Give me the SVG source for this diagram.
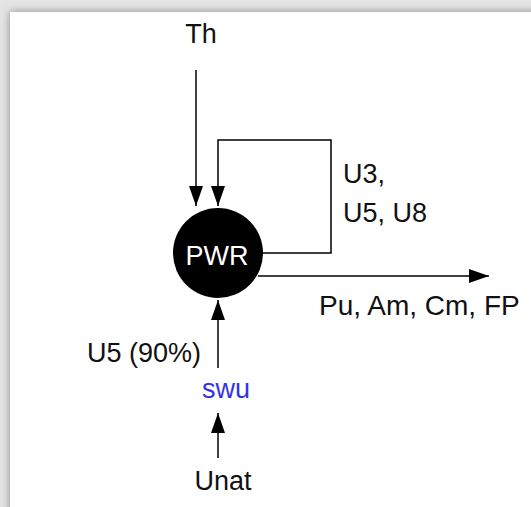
<svg xmlns="http://www.w3.org/2000/svg" width="531" height="507" viewBox="0 0 531 507">
<defs>
<filter id="sh" x="-0.1" y="-0.1" width="1.2" height="1.2"><feGaussianBlur stdDeviation="4"/></filter>
<marker id="ah" viewBox="0 0 20 14" refX="20" refY="7" markerWidth="20" markerHeight="14" markerUnits="userSpaceOnUse" orient="auto"><path d="M0,0 L20,7 L0,14 Z" fill="#000"/></marker>
</defs>
<style>
text{font-family:"Liberation Sans",Arial,sans-serif;font-size:27px;fill:#111}
.c{stroke:#000;stroke-width:1.5;fill:none}
</style>
<rect x="0" y="0" width="531" height="507" fill="#e4e4e4"/>
<rect x="10" y="12" width="540" height="520" fill="#8a8a8a" filter="url(#sh)"/>
<rect x="10" y="12" width="531" height="507" fill="#fff"/>
<g id="connectors">
<line class="c" x1="196" y1="70" x2="196" y2="206" marker-end="url(#ah)"/>
<polyline class="c" points="262,253 331,253 331,140 218,140 218,206" marker-end="url(#ah)"/>
<line class="c" x1="258" y1="276" x2="489" y2="276" marker-end="url(#ah)"/>
<line class="c" x1="218" y1="368" x2="218" y2="300" marker-end="url(#ah)"/>
<line class="c" x1="218" y1="458" x2="218" y2="413" marker-end="url(#ah)"/>
</g>
<g id="PWR">
<circle cx="218" cy="253" r="45" fill="#000"/>
<text x="217" y="265" text-anchor="middle" style="fill:#fff">PWR</text>
</g>
<g id="Th"><text x="201" y="43" text-anchor="middle">Th</text></g>
<g id="loop-label"><text x="343" y="183">U3,</text><text x="343" y="222">U5, U8</text></g>
<g id="out-label"><text x="319" y="315" style="font-size:28px">Pu, Am, Cm, FP</text></g>
<g id="U5"><text x="87" y="362">U5 (90%)</text></g>
<g id="swu"><text x="226" y="398" text-anchor="middle" style="fill:#3333e6">swu</text></g>
<g id="Unat"><text x="223" y="490" text-anchor="middle">Unat</text></g>
</svg>
